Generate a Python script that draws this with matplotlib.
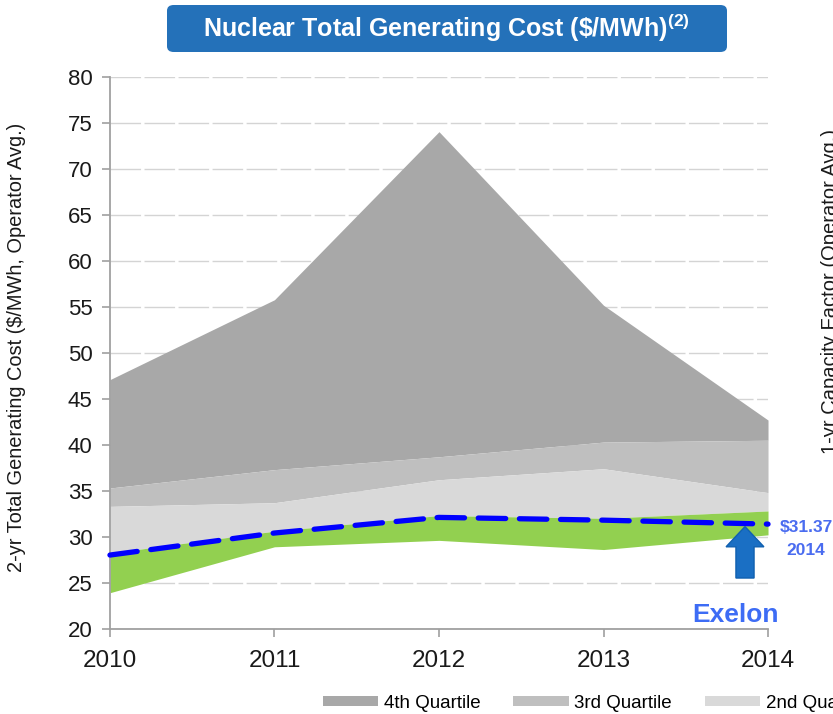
import numpy as np
import matplotlib.pyplot as plt
from matplotlib.patches import FancyBboxPatch, FancyArrow

plt.rcParams['font.family'] = ['Liberation Sans', 'DejaVu Sans']
plt.rcParams['mathtext.fontset'] = 'custom'
plt.rcParams['mathtext.rm'] = 'Liberation Sans'
plt.rcParams['mathtext.bf'] = 'Liberation Sans:bold'

years = [2010, 2011, 2012, 2013, 2014]
q1_low = [23.9, 28.9, 29.6, 28.6, 30.2]
q1_top = [28.2, 30.6, 32.3, 32.0, 32.8]
q2_top = [33.3, 33.7, 36.2, 37.4, 34.8]
q3_top = [35.3, 37.3, 38.7, 40.3, 40.5]
q4_top = [47.1, 55.8, 74.1, 55.2, 42.7]
exelon = [28.0, 30.4, 32.1, 31.8, 31.37]

c4 = '#a8a8a8'
c3 = '#bfbfbf'
c2 = '#d9d9d9'
cgreen = '#92d050'

fig = plt.figure(figsize=(8.33, 7.14), dpi=100)
ax = fig.add_axes([0.132, 0.1197, 0.79, 0.7718])

f4 = ax.fill_between(years, q3_top, q4_top, color=c4, lw=0, label='4th Quartile')
f3 = ax.fill_between(years, q2_top, q3_top, color=c3, lw=0, label='3rd Quartile')
f2 = ax.fill_between(years, q1_top, q2_top, color=c2, lw=0, label='2nd Quartile')
f1 = ax.fill_between(years, q1_low, q1_top, color=cgreen, lw=0, label='1st Quartile')
ax.plot(years, exelon, color='#0000ff', lw=3.8, dashes=(5.2, 2.6),
        dash_capstyle='round', zorder=5, clip_on=False)

ax.set_xlim(2010, 2014)
ax.set_ylim(20, 80)
ax.set_xticks(years)
ax.set_yticks(np.arange(20, 81, 5))
ax.yaxis.grid(True, color='#d4d4d4', lw=1, linestyle=(0, (22, 2.5)))
ax.set_axisbelow(True)
for s in ['top', 'right']:
    ax.spines[s].set_visible(False)
for s in ['left', 'bottom']:
    ax.spines[s].set_color('#a0a0a0')
    ax.spines[s].set_linewidth(1.3)
ax.tick_params(axis='both', colors='#a0a0a0', length=5.5, width=1.2,
               labelcolor='#1a1a1a', labelsize=16, pad=7)
ax.tick_params(axis='x', labelsize=17.5, pad=10)
ax.set_ylabel('2-yr Total Generating Cost ($/MWh, Operator Avg.)', fontsize=14.4,
              color='#1a1a1a')
ax.yaxis.set_label_coords(-0.127, 0.51)

# Exelon marker
ax.add_patch(FancyArrow(2013.86, 25.5, 0, 5.6, width=0.11, head_width=0.23,
                        head_length=2.2, length_includes_head=True,
                        color='#1a6fc4', ec='#1060b0', lw=1, zorder=6))
ax.text(2013.8, 21.5, 'Exelon', color='#3d6cf5', fontsize=19, fontweight='bold',
        ha='center', va='center', zorder=7)
ax.text(2014.07, 31.0, '$31.37', color='#4a6cf0', fontsize=12.5, fontweight='bold',
        ha='left', va='center', clip_on=False)
ax.text(2014.11, 28.5, '2014', color='#4a6cf0', fontsize=12.5, fontweight='bold',
        ha='left', va='center', clip_on=False)

# title box
fig.patches.append(FancyBboxPatch((167 / 833, 1 - 52 / 714), 560 / 833, 47 / 714,
                                  boxstyle='round,pad=0,rounding_size=0.008',
                                  transform=fig.transFigure, fc='#2471b9', ec='none'))
fig.text(446 / 833, 1 - 28 / 714,
         r'Nuclear Total Generating Cost (\$/MWh)$^{\mathbf{(2)}}$',
         color='white', fontsize=18, fontweight='bold', ha='center', va='center')

# partially visible neighbouring chart label
fig.text(830 / 833, 1 - 292 / 714, '1-yr Capacity Factor (Operator Avg.)',
         rotation=90, fontsize=14.5, color='#1a1a1a', ha='center', va='center')

fig.legend(handles=[f4, f3, f2, f1], loc='center left',
           bbox_to_anchor=(323 / 833, 1 - 703 / 714), ncol=4, frameon=False,
           fontsize=13.5, handlelength=2.95, handleheight=0.45, handletextpad=0.3,
           columnspacing=1.75, borderpad=0, borderaxespad=0)

fig.savefig('out.png', dpi=100)
